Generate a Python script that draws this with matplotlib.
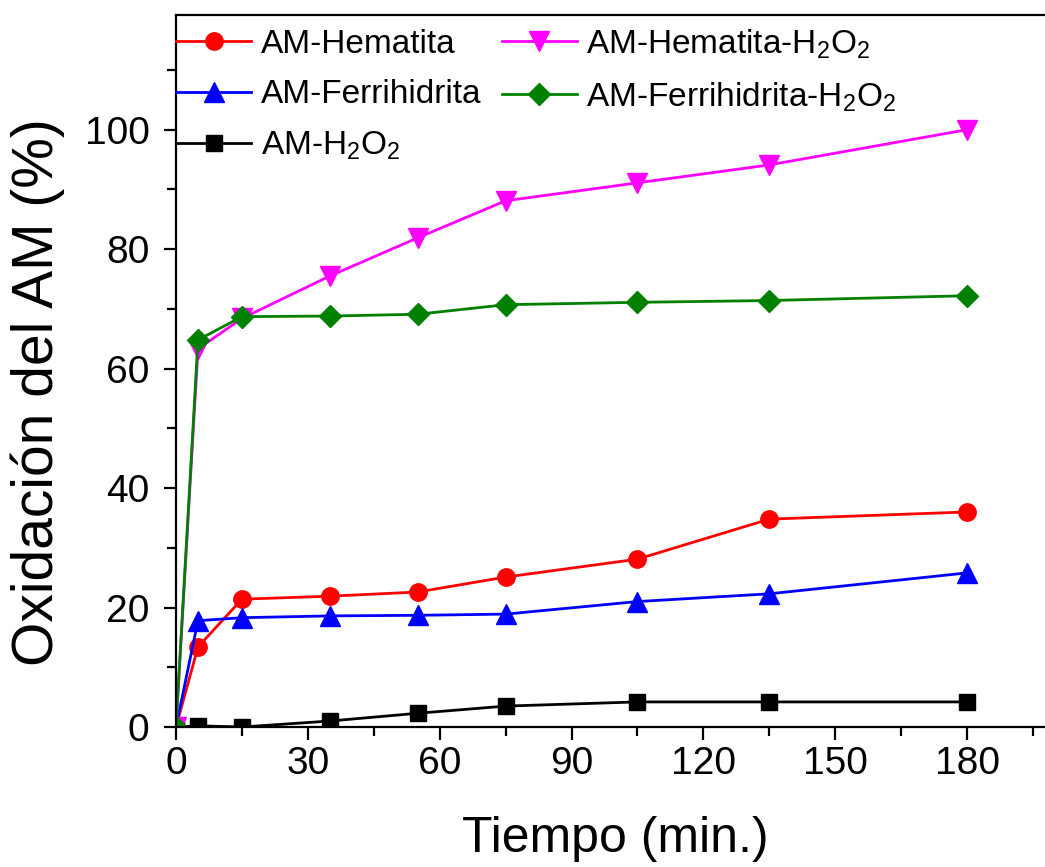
import matplotlib
matplotlib.use("Agg")
import matplotlib.pyplot as plt
from matplotlib.ticker import MultipleLocator

plt.rcParams['font.family'] = ['Liberation Sans', 'DejaVu Sans']
plt.rcParams['mathtext.fontset'] = 'custom'
plt.rcParams['mathtext.rm'] = 'Liberation Sans'

tiempo = [0, 5, 15, 35, 55, 75, 105, 135, 180]
hematita = [0, 13.4, 21.4, 21.9, 22.6, 25.1, 28.1, 34.8, 36.0]
ferrihidrita = [0, 17.8, 18.3, 18.6, 18.7, 18.9, 21.0, 22.3, 25.8]
h2o2 = [0, 0.2, 0.0, 1.0, 2.3, 3.5, 4.2, 4.2, 4.2]
hematita_h2o2 = [0, 63.3, 68.4, 75.5, 81.9, 88.1, 91.1, 94.1, 100.0]
ferrihidrita_h2o2 = [0, 64.8, 68.7, 68.8, 69.1, 70.7, 71.1, 71.4, 72.2]

labels = ['AM-Hematita', 'AM-Ferrihidrita', r'AM-H$_2$O$_2$',
          r'AM-Hematita-H$_2$O$_2$', r'AM-Ferrihidrita-H$_2$O$_2$']

W, H = 1045, 867
x0, x1 = 176, 1055   # pixel positions of x=0 and x=200
y0, y1 = 727, 15     # pixel positions of y=0 and y top
fig = plt.figure(figsize=(W / 100, H / 100), dpi=100)
ax = fig.add_axes([x0 / W, 1 - y0 / H, (x1 - x0) / W, (y0 - y1) / H])

lw = 2.0
ax.plot(tiempo, hematita, color='#ff0000', marker='o', ms=12.5, lw=lw, label=labels[0])
ax.plot(tiempo, ferrihidrita, color='#0000ff', marker='^', ms=14, lw=lw, label=labels[1])
ax.plot(tiempo, h2o2, color='black', marker='s', ms=11, lw=lw, label=labels[2])
ax.plot(tiempo, hematita_h2o2, color='#ff00ff', marker='v', ms=14, lw=lw, label=labels[3])
ax.plot(tiempo, ferrihidrita_h2o2, color='#008000', marker='D', ms=11, lw=lw, label=labels[4])

ax.set_xlim(0, 200)
ax.set_ylim(0, 119.2)
ax.xaxis.set_major_locator(MultipleLocator(30))
ax.xaxis.set_minor_locator(MultipleLocator(15))
ax.yaxis.set_major_locator(MultipleLocator(20))
ax.yaxis.set_minor_locator(MultipleLocator(10))

for s in ['top', 'right', 'left', 'bottom']:
    ax.spines[s].set_linewidth(1.6)

ax.tick_params(which='major', direction='out', length=9, width=1.6, labelsize=28)
ax.tick_params(which='minor', direction='out', length=6.5, width=1.6)
ax.tick_params(axis='x', which='major', pad=5)
ax.tick_params(axis='y', which='major', pad=10)

ax.set_xlabel('Tiempo (min.)', fontsize=36)
ax.xaxis.set_label_coords(0.4994, -0.157)
ax.xaxis.label.set_va('center')
ax.set_ylabel('Oxidación del AM (%)', fontsize=41)
ax.yaxis.set_label_coords(-0.1576, 0.47)
ax.yaxis.label.set_va('center')

leg = ax.legend(ncol=2, loc='upper left', bbox_to_anchor=(0.0, 0.983), frameon=False,
                fontsize=24, handlelength=2.25, handletextpad=0.3, columnspacing=0.6,
                labelspacing=0.58, borderaxespad=0.0, borderpad=0.0)

fig.savefig('out.png', dpi=100)
